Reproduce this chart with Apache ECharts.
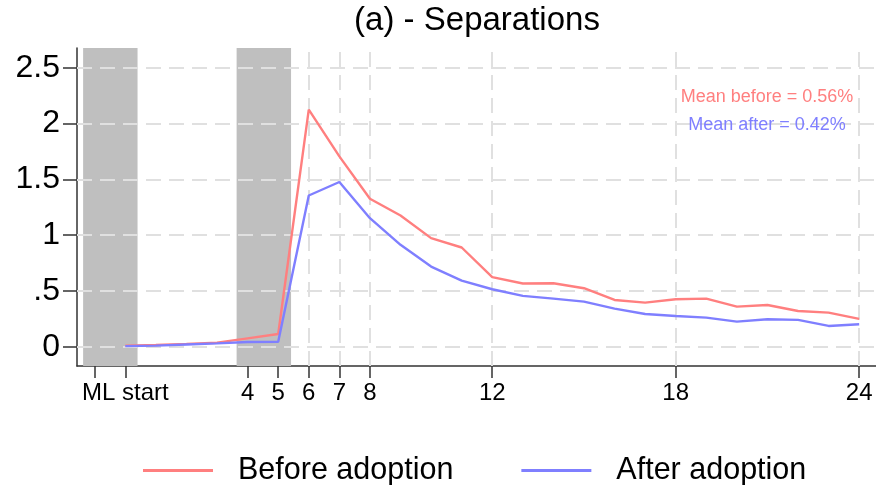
<!DOCTYPE html>
<html>
<head>
<meta charset="utf-8">
<script src="https://cdn.jsdelivr.net/npm/echarts@6/dist/echarts.min.js"></script>
<style>html,body{margin:0;padding:0;background:#fff;}#c{width:876px;height:485px;}</style>
</head>
<body>
<div id="c"></div>
<script>
var months = [0,1,2,3,4,5,6,7,8,9,10,11,12,13,14,15,16,17,18,19,20,21,22,23,24];
var beforeAdoption = [0.01,0.015,0.025,0.036,0.075,0.114,2.125,1.706,1.326,1.176,0.973,0.889,0.623,0.566,0.569,0.524,0.419,0.395,0.425,0.431,0.359,0.374,0.32,0.305,0.249];
var afterAdoption  = [0.005,0.01,0.02,0.03,0.042,0.045,1.355,1.476,1.152,0.913,0.718,0.592,0.515,0.455,0.431,0.404,0.341,0.293,0.275,0.261,0.225,0.246,0.24,0.186,0.201];
var xTickValues = [-1,0,4,5,6,7,8,12,18,24];
var xLabelValues = [0,4,5,6,7,8,12,18,24];
var xGridValues = [6,7,8,12,18,24];
var yTickValues = [0,0.5,1,1.5,2,2.5];
var yTickLabels = ['0','.5','1','1.5','2','2.5'];
var shadedBands = [[-1.38,0.4],[3.64,5.42]];
var seriesNames = ['Before adoption','After adoption'];
var annotationTexts = ['Mean before = 0.56%','Mean after = 0.42%'];
var titleText = '(a) - Separations';

var X_MIN = -1.58, X_MAX = 24.55, Y_MIN = -0.173, Y_MAX = 2.677;
var FONT = '"Liberation Sans", Arial, sans-serif';
var RED = '#ff7f7f', BLUE = '#7f7fff';

function pairs(xs, ys){ return xs.map(function(x,i){ return [x, ys[i]]; }); }

var chart = echarts.init(document.getElementById('c'), null, {renderer:'canvas'});
var option = {
  animation: false,
  backgroundColor: '#fff',
  textStyle: {fontFamily: FONT},
  grid: {left: 77, right: 0, top: 48, bottom: 119, containLabel: false, outerBoundsMode: 'none'},
  legend: {
    left: 138, top: 450,
    itemWidth: 70, itemHeight: 3, itemGap: 68,
    icon: 'rect',
    data: seriesNames,
    textStyle: {fontSize: 30.5, color: '#000', fontFamily: FONT, padding: [0,0,0,20]}
  },
  xAxis: {
    type: 'value', min: X_MIN, max: X_MAX,
    axisLine: {show: true, onZero: false, lineStyle: {color: '#333', width: 1.5}},
    axisTick: {show: true, length: 12, customValues: xTickValues, lineStyle: {color: '#333', width: 1.5}},
    axisLabel: {
      customValues: xLabelValues, margin: 15, fontSize: 24, color: '#000', fontFamily: FONT,
      formatter: function(v){ return v === 0 ? 'ML start' : String(v); }
    },
    splitLine: {show: false}
  },
  yAxis: {
    type: 'value', min: Y_MIN, max: Y_MAX,
    axisLine: {show: true, onZero: false, lineStyle: {color: '#333', width: 1.5}},
    axisTick: {show: true, length: 14, customValues: yTickValues, lineStyle: {color: '#333', width: 1.5}},
    axisLabel: {
      customValues: yTickValues, margin: 17, fontSize: 32, color: '#000', fontFamily: FONT,
      formatter: function(v){ var i = yTickValues.indexOf(v); return i >= 0 ? yTickLabels[i] : ''; }
    },
    splitLine: {show: false}
  },
  graphic: [
    {type: 'text', x: 477, y: 21, style: {text: titleText, font: '33px ' + FONT, fill: '#000', textAlign: 'center', textVerticalAlign: 'middle'}},
    {type: 'text', x: 767, y: 97, z: 100, style: {text: annotationTexts[0], font: '18px ' + FONT, fill: RED, textAlign: 'center', textVerticalAlign: 'middle'}},
    {type: 'text', x: 767, y: 125, z: 100, style: {text: annotationTexts[1], font: '18px ' + FONT, fill: BLUE, textAlign: 'center', textVerticalAlign: 'middle'}}
  ],
  series: [
    {
      type: 'line', name: '_grid', data: [], z: 1, silent: true,
      markLine: {
        silent: true, symbol: 'none', label: {show: false}, animation: false,
        lineStyle: {color: '#e0e0e0', type: [15, 8], width: 2},
        data: yTickValues.map(function(v){ return {yAxis: v}; }).concat(
              xGridValues.map(function(v){ return {xAxis: v}; }))
      }
    },
    {
      type: 'line', name: '_bands', data: [], z: 2, silent: true,
      markArea: {
        silent: true, itemStyle: {color: '#bfbfbf', opacity: 1}, label: {show: false},
        data: shadedBands.map(function(b){ return [{xAxis: b[0], yAxis: Y_MIN}, {xAxis: b[1], yAxis: Y_MAX}]; })
      }
    },
    {
      type: 'line', name: seriesNames[0], z: 5, data: pairs(months, beforeAdoption),
      symbol: 'none', lineStyle: {color: RED, width: 2.4}, itemStyle: {color: RED}
    },
    {
      type: 'line', name: seriesNames[1], z: 5, data: pairs(months, afterAdoption),
      symbol: 'none', lineStyle: {color: BLUE, width: 2.4}, itemStyle: {color: BLUE}
    }
  ]
};
chart.setOption(option);
</script>
</body>
</html>
